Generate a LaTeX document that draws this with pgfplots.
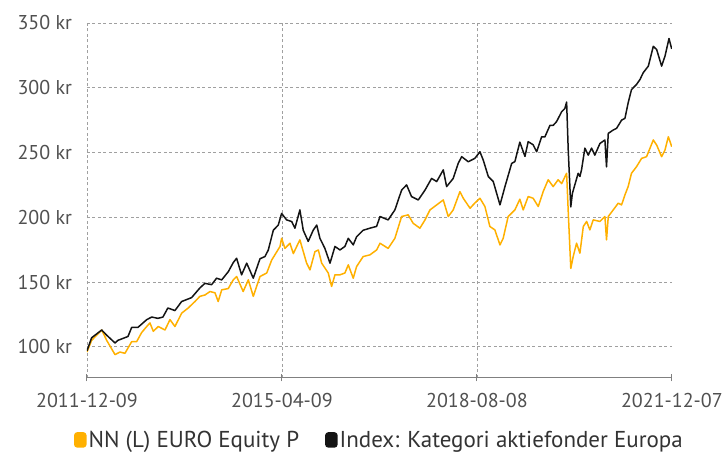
\documentclass[border=0pt]{standalone}
\usepackage{fontspec}
\setmainfont{PT Sans}
\usepackage{pgfplots}
\pgfplotsset{compat=1.18}
\definecolor{fundorange}{RGB}{255,176,0}
\definecolor{idxblack}{RGB}{20,20,20}
\definecolor{gridgray}{RGB}{160,160,160}
\definecolor{labgray}{RGB}{80,80,80}
\begin{document}
\begin{tikzpicture}
\begin{axis}[
  scale only axis,
  width=585pt, height=355pt,
  xmin=0, xmax=3651, ymin=76, ymax=350,
  axis x line*=bottom, axis y line*=left,
  y axis line style={draw=none},
  x axis line style={draw=gray, line width=1pt},
  ytick={100,150,200,250,300,350},
  yticklabel={\pgfmathprintnumber{\tick}~kr},
  ytick style={draw=none},
  xtick={0,1217,2434},
  xticklabels={2011-12-09,2015-04-09,2018-08-08},
  extra x ticks={3651},
  extra x tick labels={2021-12-07},
  extra x tick style={grid=none},
  xtick style={draw=gray, line width=1pt},
  tick align=center, major tick length=7pt,
  grid=major,
  major grid style={draw=gridgray, line width=0.8pt, dash pattern=on 3pt off 2.5pt},
  tick label style={font=\fontsize{20}{24}\selectfont, text=labgray},
  /pgf/number format/assume math mode=true,
  xticklabel style={yshift=-8pt},
  yticklabel style={xshift=-8pt},
  legend style={at={(axis description cs:0.5,-0.1746)}, anchor=center, draw=none, fill=none,
    font=\fontsize{23}{27}\selectfont, text=black!80, legend columns=2,
    /tikz/every even column/.append style={column sep=24pt}},
  legend cell align=left,
]
\addplot[fundorange, line width=1.5pt, line join=round,
  legend image code/.code={\fill[rounded corners=2.5pt] (0pt,-7pt) rectangle (11pt,7pt);}]
coordinates {
(0,96) (29,105) (92,113) (123,105) (175,94) (206,96) (237,95) (279,104) (310,104) (341,111)
(373,115.7) (393,118.5) (414,112) (445,115.7) (487,113) (518,121) (549,115.7) (591,126) (632,130) (674,135)
(705,139) (736,140) (768,142.7) (799,141.7) (819,135) (841,144) (882,145) (913,151.7) (934,154.3) (975,142.7)
(1007,151.7) (1038,139) (1080,154.3) (1122,157) (1153,167) (1205,177.5) (1215,183.8) (1236,176) (1267,180) (1288,172)
(1329,182.6) (1371,164.6) (1392,159.4) (1423,173.5) (1444,174.8) (1465,164.6) (1506,157) (1527,146.6) (1548,155.6) (1579,155.6)
(1610,157) (1631,163.3) (1662,153) (1683,162) (1724,169.7) (1766,171) (1808,174.8) (1829,180) (1880,176) (1922,183.8)
(1964,200.6) (2005,201.9) (2036,195.4) (2078,191.6) (2110,198) (2141,205.7) (2183,209.6) (2224,213.4) (2255,200.6) (2286,205.7)
(2328,219.8) (2349,214.7) (2391,207) (2421,211) (2453,214.7) (2484,208.3) (2515,192.9) (2546,190.3) (2578,178.7) (2598,183.8)
(2629,200.6) (2671,205.7) (2702,214) (2723,205.7) (2754,216) (2785,214.7) (2817,208.3) (2848,220) (2879,229) (2910,223.7)
(2941,229) (2963,226) (2994,234) (3004,204.6) (3020,160.5) (3035,169.7) (3056,180) (3077,172.3) (3098,192.9) (3119,196.8)
(3139,190.3) (3160,198) (3202,196.8) (3233,200.6) (3243,182.6) (3254,200.6) (3285,205.7) (3316,210.9) (3337,209.6) (3358,217.3)
(3378,223.7) (3399,234) (3430,239) (3462,245.5) (3493,246.8) (3535,259.7) (3556,255.8) (3587,246.8) (3608,252) (3629,262.2)
(3650,254.5)
};
\addlegendentry{NN (L) EURO Equity P}
\addplot[idxblack, line width=1.5pt, line join=round,
  legend image code/.code={\fill[rounded corners=2.5pt] (0pt,-7pt) rectangle (11pt,7pt);}]
coordinates {
(0,97) (29,107) (92,113) (123,109) (175,103) (193,105) (256,108) (279,115) (318,115) (373,121)
(404,123) (443,122) (474,123) (505,130) (549,128) (591,135) (612,136) (653,138) (705,145.5) (736,149)
(778,148) (809,153) (841,151.7) (882,158) (913,165) (934,168.4) (965,155.6) (997,164.6) (1038,153) (1080,168)
(1111,169.7) (1132,174.8) (1163,190) (1194,194) (1215,203) (1246,198) (1278,196.7) (1298,191.6) (1329,205.7) (1350,190)
(1381,181.4) (1412,190) (1434,194) (1454,183.8) (1485,176) (1517,164.6) (1548,177.5) (1579,174.8) (1610,177.5) (1631,183.8)
(1662,178.7) (1683,185) (1724,190) (1766,191.6) (1808,193) (1829,200.6) (1880,198) (1922,205.7) (1964,221) (1995,225)
(2026,216) (2068,213.4) (2110,221) (2151,230) (2183,227.6) (2224,236.6) (2245,223.7) (2286,230) (2317,241.6) (2339,246.8)
(2380,242.9) (2421,245.5) (2453,250.6) (2474,244) (2505,231.5) (2536,227.6) (2578,209.6) (2609,223.7) (2651,241.6) (2671,243)
(2702,258) (2734,247) (2754,258.4) (2785,256) (2807,250.6) (2838,262.2) (2858,262) (2890,271) (2910,271) (2931,273.8)
(2963,281.5) (2983,284) (2994,289) (3004,252) (3020,208) (3030,218.5) (3066,234) (3077,231.5) (3087,236.6) (3108,253.4) (3129,248)
(3150,253.4) (3170,248) (3202,257) (3233,259.7) (3243,239) (3254,264.8) (3285,267.4) (3306,268.7) (3337,275) (3358,276.4)
(3378,288.3) (3399,298.6) (3430,302.5) (3452,306.4) (3472,311.6) (3504,316.7) (3535,332) (3556,329.5) (3587,316.7) (3608,324.4)
(3633,338) (3650,330)
};
\addlegendentry{Index: Kategori aktiefonder Europa}
\end{axis}
\path ([shift={(-87pt,-77pt)}]current axis.south west) rectangle ([shift={(54pt,23pt)}]current axis.north east);
\end{tikzpicture}
\end{document}
